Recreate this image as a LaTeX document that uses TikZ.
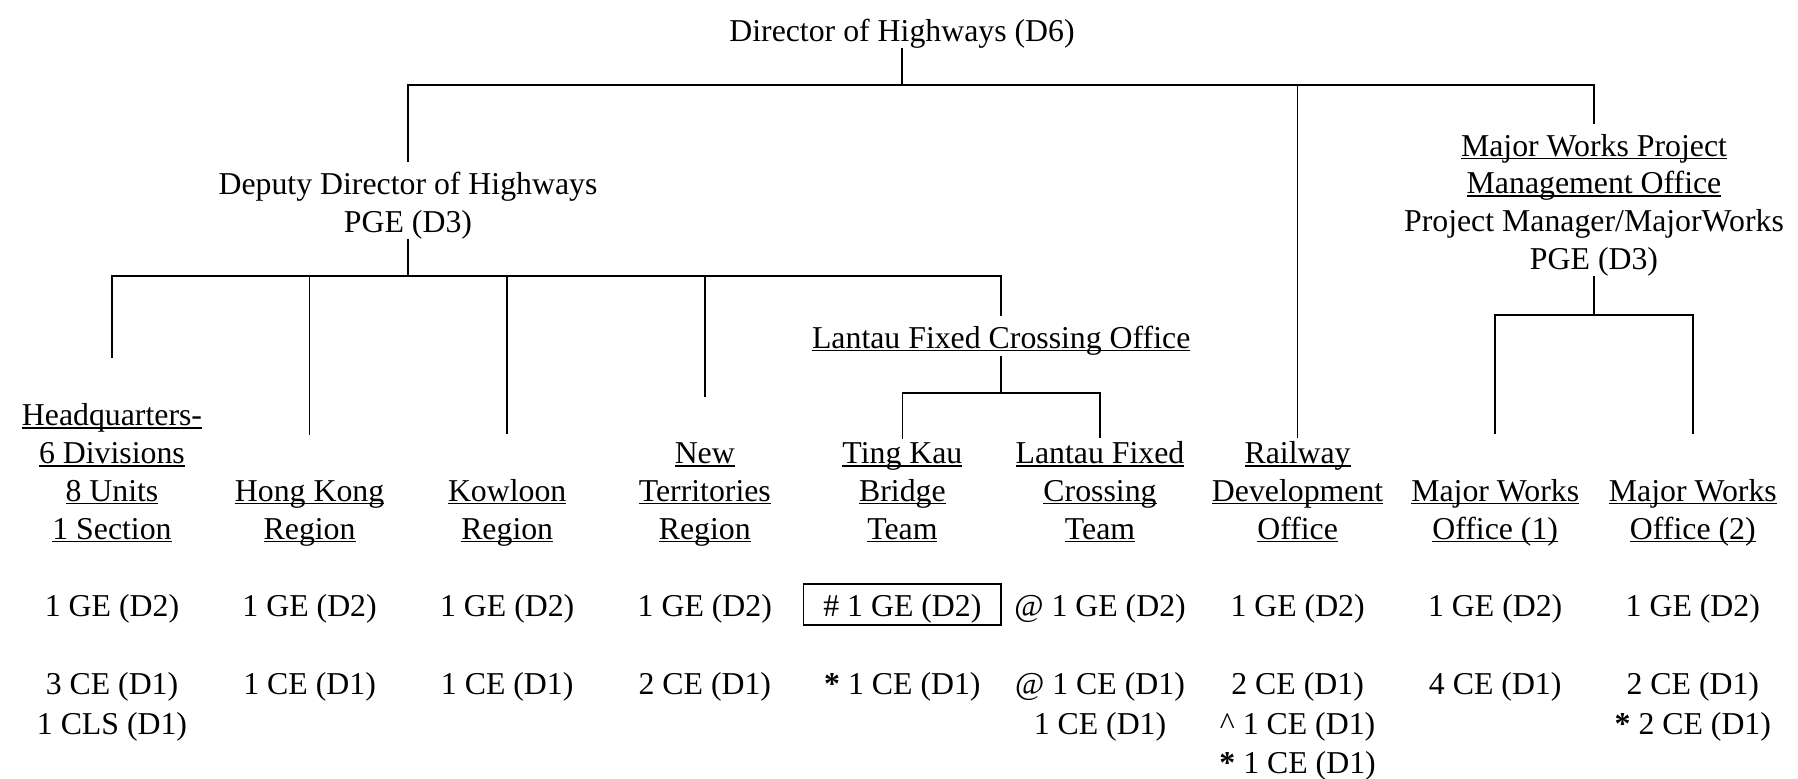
\documentclass[tikz,border=0pt]{standalone}
\usepackage{fontspec}
\setmainfont{Liberation Serif}
\usetikzlibrary{positioning}

\newcommand{\uln}[1]{{\setbox0\hbox{#1}\rlap{\rule[-1.5pt]{\wd0}{0.75pt}}\box0}}

\begin{document}
\begin{tikzpicture}[
				x=1pt, y=-1pt,
				post/.style={inner sep=0pt, align=center, font=\fontsize{15.9}{18.85}\selectfont},
				office/.style={post, execute at end node=\strut},
				grade/.style={post, minimum width=98.8pt, outer sep=0pt, text height=16.25pt, text depth=4.25pt},
				staff/.style={inner sep=0pt, align=center, font=\fontsize{15.9}{19.75}\selectfont},
				boxed/.style={draw=black, line width=0.75pt},
				link/.style={line width=0.85pt},
				shortgap/.style={shorten >=1.5pt},
				longgap/.style={shorten >=22.5pt}
			]
			\useasboundingbox (0,0) rectangle (899,389);
			% top of the tree
			\node[post, anchor=base] (director) at (451,20.5) {Director of Highways (D6)};
			\node[post] (deputy) at (204,102.7) {Deputy Director of Highways\\PGE (D3)};
			\node[post] (majpm) at (797,102.5) {\uln{Major Works Project}\\\uln{Management Office}\\Project Manager/MajorWorks\\PGE (D3)};
			\node[post, anchor=base] (lfco) at (500.6,174.2) {\uln{Lantau Fixed Crossing Office}};
			% grade row
			\node[grade] (gehq) at (56,302.2) {1 GE (D2)};
			\node[grade] (gehk) [right=0pt of gehq] {1 GE (D2)};
			\node[grade] (gekln) [right=0pt of gehk] {1 GE (D2)};
			\node[grade] (gent) [right=0pt of gekln] {1 GE (D2)};
			\node[grade, boxed] (getkb) [right=0pt of gent] {\# 1 GE (D2)};
			\node[grade] (gelfct) [right=0pt of getkb] {@ 1 GE (D2)};
			\node[grade] (gerdo) [right=0pt of gelfct] {1 GE (D2)};
			\node[grade] (gemwa) [right=0pt of gerdo] {1 GE (D2)};
			\node[grade] (gemwb) [right=0pt of gemwa] {1 GE (D2)};
			% offices
			\node[office] (hq) [above=16.6pt of gehq] {\uln{Headquarters-}\\\uln{6 Divisions}\\\uln{8 Units}\\\uln{1 Section}};
			\node[office] (hk) [above=16.6pt of gehk] {\uln{Hong Kong}\\\uln{Region}};
			\node[office] (kln) [above=16.6pt of gekln] {\uln{Kowloon}\\\uln{Region}};
			\node[office] (nt) [above=16.6pt of gent] {\uln{New}\\\uln{Territories}\\\uln{Region}};
			\node[office] (tkb) [above=16.6pt of getkb] {\uln{Ting Kau}\\\uln{Bridge}\\\uln{Team}};
			\node[office] (lfct) [above=16.6pt of gelfct] {\uln{Lantau Fixed}\\\uln{Crossing}\\\uln{Team}};
			\node[office] (rdo) [above=16.6pt of gerdo] {\uln{Railway}\\\uln{Development}\\\uln{Office}};
			\node[office] (mwa) [above=16.6pt of gemwa] {\uln{Major Works}\\\uln{Office (1)}};
			\node[office] (mwb) [above=16.6pt of gemwb] {\uln{Major Works}\\\uln{Office (2)}};
			% engineer row
			\node[staff] (cehq) [below=23.8pt of gehq] {3 CE (D1)\\1 CLS (D1)};
			\node[staff] (cehk) [below=23.8pt of gehk] {1 CE (D1)};
			\node[staff] (cekln) [below=23.8pt of gekln] {1 CE (D1)};
			\node[staff] (cent) [below=23.8pt of gent] {2 CE (D1)};
			\node[staff] (cetkb) [below=23.8pt of getkb] {\textbf{*} 1 CE (D1)};
			\node[staff] (celfct) [below=23.8pt of gelfct] {@ 1 CE (D1)\\1 CE (D1)};
			\node[staff] (cerdo) [below=23.8pt of gerdo] {2 CE (D1)\\\textasciicircum{} 1 CE (D1)\\\textbf{*} 1 CE (D1)};
			\node[staff] (cemwa) [below=23.8pt of gemwa] {4 CE (D1)};
			\node[staff] (cemwb) [below=23.8pt of gemwb] {2 CE (D1)\\\textbf{*} 2 CE (D1)};
			% bus lines
			\coordinate (topbar) at (451,42.5);
			\coordinate (depbar) at (204,138);
			\coordinate (lfcobar) at (500.6,196.5);
			\coordinate (mwbar) at (797,157.5);
			\begin{scope}[link]
			\draw (director.south) -- (topbar);
			\draw[shorten >=5pt] (topbar) -| (deputy.north);
			\draw[shorten >=5pt] (topbar) -| (majpm.north);
			\draw[shortgap] (topbar) -| (rdo.north);
			\draw (deputy.south) -- (depbar);
			\draw[longgap] (depbar) -| (hq.north);
			\draw[longgap] (depbar) -| (hk.north);
			\draw[longgap] (depbar) -| (kln.north);
			\draw[longgap] (depbar) -| (nt.north);
			\draw[shorten >=5pt] (depbar) -| (lfco.north);
			\draw (lfco.south) -- (lfcobar);
			\draw[shortgap] (lfcobar) -| (tkb.north);
			\draw[shortgap] (lfcobar) -| (lfct.north);
			\draw (majpm.south) -- (mwbar);
			\draw[longgap] (mwbar) -| (mwa.north);
			\draw[longgap] (mwbar) -| (mwb.north);
			\end{scope}
			\end{tikzpicture}
\end{document}
